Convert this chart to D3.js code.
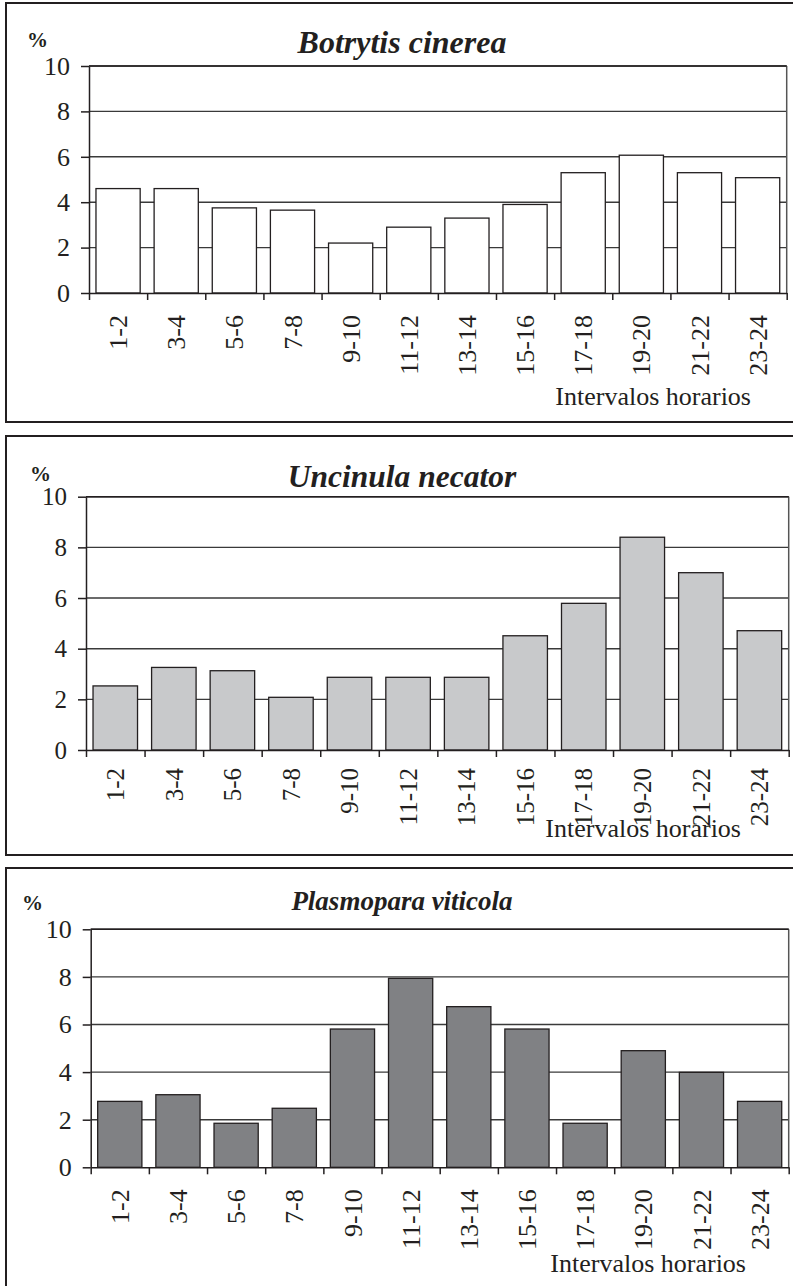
<!DOCTYPE html>
<html>
<head>
<meta charset="utf-8">
<script src="https://cdn.jsdelivr.net/npm/d3@7"></script>
<style>
  body { margin: 0; background: #fff; }
  svg { display: block; }
  svg text { font-family: "Liberation Serif", "Times New Roman", serif !important; }
  .axis path, .axis line { stroke: #231f20; stroke-width: 1.5; }
  .axis text { fill: #231f20; }
</style>
</head>
<body>
<div id="chart"></div>
<script>
// hourly intervals (x categories)
const categories = ['1-2', '3-4', '5-6', '7-8', '9-10', '11-12', '13-14', '15-16', '17-18', '19-20', '21-22', '23-24'];
const yTicks = [0, 2, 4, 6, 8, 10];

// % of spores caught per interval
const botrytis = [4.6, 4.6, 3.75, 3.65, 2.2, 2.9, 3.3, 3.9, 5.3, 6.07, 5.3, 5.08];
const uncinula = [2.53, 3.26, 3.13, 2.08, 2.87, 2.87, 2.87, 4.51, 5.79, 8.4, 7.0, 4.71];
const plasmopara = [2.77, 3.05, 1.85, 2.48, 5.81, 7.94, 6.75, 5.81, 1.85, 4.9, 3.99, 2.77];

const titles = ['Botrytis cinerea', 'Uncinula necator', 'Plasmopara viticola'];
const xTitle = 'Intervalos horarios';

const W = 793, H = 1286;

// layout of each boxed panel
const panels = [
  {
    values: botrytis, title: titles[0], fill: '#ffffff',
    frame: [6, 3, 900, 419],
    plot: { left: 89, right: 786.7, top: 66, bottom: 293 },
    titleY: 53, titleSize: 32, pctX: 27, pctY: 47,
    xTitleX: 751, xTitleY: 405, tickSize: 26, labelGap: 22,
  },
  {
    values: uncinula, title: titles[1], fill: '#c8c9cb',
    frame: [6, 436, 900, 419],
    plot: { left: 86, right: 788.7, top: 496.7, bottom: 750 },
    titleY: 487, titleSize: 31.5, pctX: 30, pctY: 481,
    xTitleX: 741, xTitleY: 837, tickSize: 25, labelGap: 18,
  },
  {
    values: plasmopara, title: titles[2], fill: '#808184',
    frame: [6, 868, 900, 500],
    plot: { left: 90.7, right: 788.7, top: 929.3, bottom: 1167.3 },
    titleY: 910, titleSize: 27, pctX: 22, pctY: 910,
    xTitleX: 746, xTitleY: 1272, tickSize: 26, labelGap: 22,
  },
];

const svg = d3.select('#chart').append('svg')
  .attr('width', W)
  .attr('height', H);

panels.forEach((p) => {
  const g = svg.append('g');

  // outer box
  g.append('rect')
    .attr('x', p.frame[0]).attr('y', p.frame[1])
    .attr('width', p.frame[2]).attr('height', p.frame[3])
    .attr('fill', 'none')
    .attr('stroke', '#231f20')
    .attr('stroke-width', 2);

  const x = d3.scaleBand()
    .domain(categories)
    .range([p.plot.left, p.plot.right])
    .paddingInner(0.24)
    .paddingOuter(0.12);

  const xEdges = d3.scaleLinear()
    .domain([0, categories.length])
    .range([p.plot.left, p.plot.right]);

  const y = d3.scaleLinear()
    .domain([0, 10])
    .range([p.plot.bottom, p.plot.top]);

  // gridlines
  g.append('g')
    .selectAll('line')
    .data(yTicks.filter((d) => d > 0))
    .join('line')
    .attr('x1', p.plot.left).attr('x2', p.plot.right)
    .attr('y1', (d) => y(d)).attr('y2', (d) => y(d))
    .attr('stroke', '#3a3a3a')
    .attr('stroke-width', 1.4);

  // plot border on the right
  g.append('line')
    .attr('x1', p.plot.right).attr('x2', p.plot.right)
    .attr('y1', y(10)).attr('y2', y(0))
    .attr('stroke', '#555')
    .attr('stroke-width', 1.5);

  // bars
  g.append('g')
    .selectAll('rect')
    .data(p.values)
    .join('rect')
    .attr('x', (d, i) => x(categories[i]))
    .attr('y', (d) => y(d))
    .attr('width', x.bandwidth())
    .attr('height', (d) => y(0) - y(d))
    .attr('fill', p.fill)
    .attr('stroke', '#231f20')
    .attr('stroke-width', 1.3);

  // y axis
  g.append('g')
    .attr('class', 'axis')
    .attr('transform', `translate(${p.plot.left},0)`)
    .call(d3.axisLeft(y).tickValues(yTicks).tickSize(8).tickPadding(11).tickSizeOuter(0))
    .attr('font-size', p.tickSize);

  // x axis with ticks at category boundaries
  g.append('g')
    .attr('class', 'axis')
    .attr('transform', `translate(0,${p.plot.bottom})`)
    .call(d3.axisBottom(xEdges).tickValues(d3.range(categories.length + 1))
      .tickFormat('').tickSize(7).tickSizeOuter(0));

  // rotated category labels
  g.append('g')
    .attr('class', 'axis')
    .attr('transform', `translate(0,${p.plot.bottom})`)
    .call(d3.axisBottom(x).tickSize(0).tickPadding(0))
    .attr('font-size', p.tickSize)
    .call((s) => s.select('.domain').remove())
    .call((s) => s.selectAll('text')
      .attr('text-anchor', 'end')
      .attr('transform', 'rotate(-90)')
      .attr('x', -p.labelGap)
      .attr('y', 0)
      .attr('dy', '0.35em'));

  // top border of plot
  g.append('line')
    .attr('x1', p.plot.left).attr('x2', p.plot.right)
    .attr('y1', y(10)).attr('y2', y(10))
    .attr('stroke', '#231f20')
    .attr('stroke-width', 1.5);

  g.append('text')
    .attr('x', 402)
    .attr('y', p.titleY)
    .attr('text-anchor', 'middle')
    .attr('font-size', p.titleSize)
    .attr('font-weight', 'bold')
    .attr('font-style', 'italic')
    .attr('fill', '#231f20')
    .text(p.title);

  g.append('text')
    .attr('x', p.pctX)
    .attr('y', p.pctY)
    .attr('font-size', 21)
    .attr('font-weight', 'bold')
    .attr('fill', '#231f20')
    .text('%');

  g.append('text')
    .attr('x', p.xTitleX)
    .attr('y', p.xTitleY)
    .attr('text-anchor', 'end')
    .attr('font-size', 26)
    .attr('fill', '#231f20')
    .text(xTitle);
});
</script>
</body>
</html>
